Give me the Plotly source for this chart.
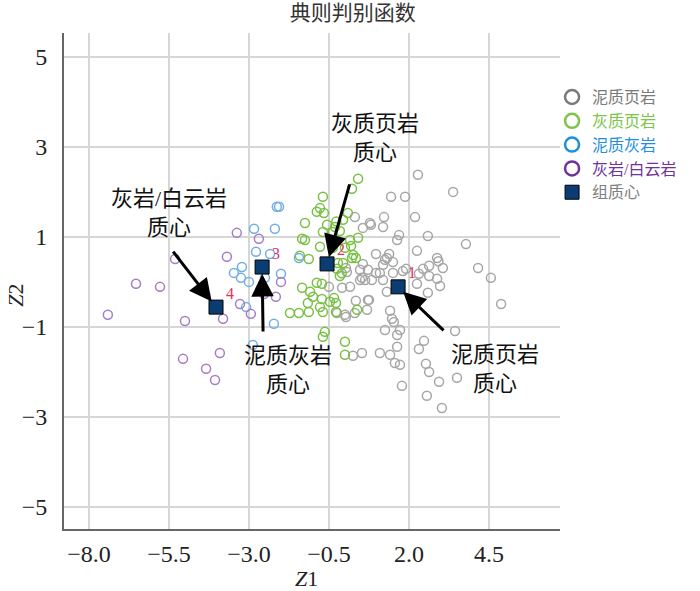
import plotly.graph_objects as go

# 典则判别函数散点 (Z1, Z2)
gray_z1 = [2.28, 3.38, 1.44, 1.88, 1.22, 2.19, 0.31, 0.56, 0.81, 1.69, 1.63, 2.59, 3.78, 2.25, 0.97,
           1.38, 1.25, 1.50, 2.88, 2.92, 0.56, 1.91, 1.81, 2.63, 2.44, 3.06, 4.16, 4.56, 0.06, 0.97,
           1.09, 1.50, 2.31, 2.63, 2.88, 0.47, 0.63, 1.19, 2.25, 2.97, 2.59, 1.31, 0.75, 0.34, 0.03,
           1.41, 1.47, 1.53, 4.88, 1.25, 1.72, 1.63, 3.44, 2.47, 2.31, 1.63, 1.09, 0.53, 0.25, 1.56,
           1.72, 2.53, 2.63, 2.94, 3.50, 1.78, 2.56, 3.03, 0.78, 1.19, 1.31, 1.19, 0.47, 0.72, 0.03,
           0.53, 0.84, -0.50, -0.09, 0.16, 0.72, -0.25, 0.00, 0.31, 0.69, 1.41]
gray_z2 = [2.38, 2.00, 1.89, 1.89, 1.44, 1.44, 1.44, 1.20, 1.27, 1.04, 0.93, 1.02, 0.84, 0.69, 0.62,
           0.62, 0.49, 0.44, 0.53, 0.46, 0.40, 0.29, 0.24, 0.36, 0.29, 0.31, 0.31, 0.09, 0.22, 0.20,
           0.20, 0.20, 0.18, 0.13, 0.07, 0.04, 0.04, 0.04, -0.04, -0.09, -0.24, -0.22, -0.40, -0.42, -0.78,
           -0.64, -0.82, -0.89, -0.49, -1.07, -1.07, -1.18, -1.09, -1.31, -1.49, -1.44, -1.58, -1.58, -1.64, -1.80,
           -1.84, -1.82, -2.00, -2.22, -2.13, -2.31, -2.53, -2.80, 1.31, 1.22, 0.53, 0.38, 0.27, 0.27, 0.31,
           0.09, 0.04, -0.11, -0.13, -0.11, -0.40, -0.69, -0.73, -0.69, -0.62, -1.62]

green_z1 = [0.41, 0.22, -0.69, -0.88, -0.66, -0.78, 0.09, -0.06, -1.25, -0.56, -0.31, -0.69, -0.38, -0.27,
            -1.34, -1.25, 0.16, 0.41, -0.78, -0.38, 0.00, 0.19, -1.41, -1.13, 0.22, 0.34, -0.16, -0.22,
            -0.25, -0.16, -0.06, -0.88, -0.72, -1.34, -1.00, -0.72, -0.34, -1.16, -0.78, -1.72, -1.44, -1.13,
            -0.69, -0.47, -0.28, -0.28, 0.38, -0.69, -0.63, 0.00, 0.00, -0.10, 0.26, -1.09]
green_z2 = [2.29, 2.07, 1.89, 1.56, 1.53, 1.64, 1.53, 1.38, 1.31, 1.27, 1.22, 1.11, 1.11, 1.34,
            0.96, 0.93, 0.93, 0.98, 0.78, 0.76, 0.76, 0.80, 0.58, 0.51, 0.53, 0.53, 1.13, 0.42,
            0.29, 0.13, 0.42, -0.02, -0.04, -0.13, -0.33, -0.38, -0.36, -0.47, -0.56, -0.69, -0.69, -0.67,
            -0.67, -0.44, -0.47, -0.67, -0.62, -1.22, -1.11, -1.33, -1.62, 0.19, 0.60, -0.22]

blue_z1 = [-2.13, -2.06, -2.84, -2.19, -2.78, -2.34, -3.22, -3.47, -3.25, -3.00, -2.50, -2.00, -3.09, -2.22, -2.88, -1.44]
blue_z2 = [1.67, 1.67, 1.18, 1.18, 0.67, 0.62, 0.33, 0.20, 0.09, 0.00, 0.09, 0.18, -0.56, -0.93, -1.40, 0.53]

purple_z1 = [-3.38, -2.69, -3.69, -5.31, -6.53, -5.78, -7.41, -5.00, -3.81, -3.28, -2.94, -2.53, -2.16, -2.00,
             -5.06, -3.91, -4.34, -4.06]
purple_z2 = [1.09, 0.96, 0.56, 0.51, -0.04, -0.11, -0.73, -0.87, -0.82, -0.49, -0.71, -0.27, -0.33, 0.00,
             -1.71, -1.58, -1.93, -2.18]

# 组质心
cent_z1 = [1.66, -0.56, -2.59, -4.03]
cent_z2 = [-0.11, 0.40, 0.33, -0.56]
cent_labels = ["1", "2", "3", "4"]
cent_names = ["泥质页岩<br>质心", "灰质页岩<br>质心", "泥质灰岩<br>质心", "灰岩/白云岩<br>质心"]

x_ticks = [-8.0, -5.5, -3.0, -0.5, 2.0, 4.5]
y_ticks = [5, 3, 1, -1, -3, -5]

# callout placement in pixels relative to each centroid (arrow tail, text centre)
arrow_dx = [47, 23, 1, -44]
arrow_dy = [45, -81, 66, -57]
text_dx = [97, 48, 26, -47]
text_dy = [-82, 126, -103, 94]

serif = "Liberation Serif, Noto Sans CJK SC"

groups = [
    ("泥质页岩", gray_z1, gray_z2, "#a6a6a6", "#7a7a7a"),
    ("灰质页岩", green_z1, green_z2, "#78c043", "#7ec34a"),
    ("泥质灰岩", blue_z1, blue_z2, "#72aee6", "#1f8fdc"),
    ("灰岩/白云岩", purple_z1, purple_z2, "#a77cc8", "#6f339b"),
]

fig = go.Figure()
for name, zx, zy, c_pt, c_leg in groups:
    fig.add_trace(go.Scatter(x=zx, y=zy, mode='markers', showlegend=False, hoverinfo='skip',
                             marker=dict(symbol='circle-open', size=9, color=c_pt, line=dict(width=1.5))))
for name, zx, zy, c_pt, c_leg in groups:
    fig.add_trace(go.Scatter(x=[None], y=[None], mode='markers',
                             name="<span style='color:%s'>%s</span>" % (c_leg, name),
                             marker=dict(symbol='circle-open', size=14, color=c_leg, line=dict(width=2.5))))

fig.add_trace(go.Scatter(x=cent_z1, y=cent_z2, mode='markers',
                         name="<span style='color:#808080'>组质心</span>",
                         marker=dict(symbol='square', size=14, color='#0b3d72',
                                     line=dict(color='black', width=1))))

ann = []
for i in range(len(cent_z1)):
    ann.append(dict(x=cent_z1[i], y=cent_z2[i], text=cent_labels[i], showarrow=False,
                    xshift=14, yshift=14, font=dict(family=serif, size=16, color='#e8305a')))
    ann.append(dict(x=cent_z1[i], y=cent_z2[i], text="", showarrow=True, ax=arrow_dx[i], ay=arrow_dy[i],
                    arrowhead=2, arrowsize=1.5, arrowwidth=3, arrowcolor='black', standoff=7))
    ann.append(dict(x=cent_z1[i], y=cent_z2[i], text=cent_names[i], showarrow=False,
                    xshift=text_dx[i], yshift=text_dy[i], xanchor='center', yanchor='middle',
                    font=dict(family=serif, size=22, color='#111111')))

ann.append(dict(xref='paper', yref='paper', x=0.488, y=-0.100, text="<i>Z</i>1", showarrow=False,
                xanchor='center', yanchor='middle', font=dict(family=serif, size=22, color='#222222')))
ann.append(dict(xref='paper', yref='paper', x=-0.097, y=0.472, text="<i>Z</i>2", showarrow=False,
                xanchor='center', yanchor='middle', textangle=-90,
                font=dict(family=serif, size=22, color='#222222')))

fig.update_layout(
    width=700, height=591,
    margin=dict(l=64, r=140, t=33, b=62),
    plot_bgcolor='white', paper_bgcolor='white',
    title=dict(text="典则判别函数", x=0.582, xref='paper', xanchor='center', y=0.979, yanchor='middle',
               font=dict(family=serif, size=21, color='#333333')),
    legend=dict(x=0.984, y=0.905, xanchor='left', yanchor='top', itemwidth=30,
                font=dict(family=serif, size=16), bgcolor='rgba(0,0,0,0)', tracegroupgap=0),
    annotations=ann,
)
fig.update_xaxes(range=[-8.78, 6.72], tickvals=x_ticks, tickformat=".1f", showgrid=True,
                 gridcolor='#d6d6d6', gridwidth=2, zeroline=False, showline=True, linecolor='#666666',
                 linewidth=2, ticks='', ticklabelstandoff=2, tickfont=dict(family=serif, size=24, color='#222222'))
fig.update_yaxes(range=[-5.49, 5.53], tickvals=y_ticks, showgrid=True,
                 gridcolor='#d6d6d6', gridwidth=2, zeroline=False, showline=True, linecolor='#666666',
                 linewidth=2, ticks='', ticklabelstandoff=10, tickfont=dict(family=serif, size=24, color='#222222'))

# page body has an 8px default margin; drop it so the figure sits at the window origin
fig.write_html("out.html", config={'displayModeBar': False},
               post_script="document.body.style.margin='0';")
